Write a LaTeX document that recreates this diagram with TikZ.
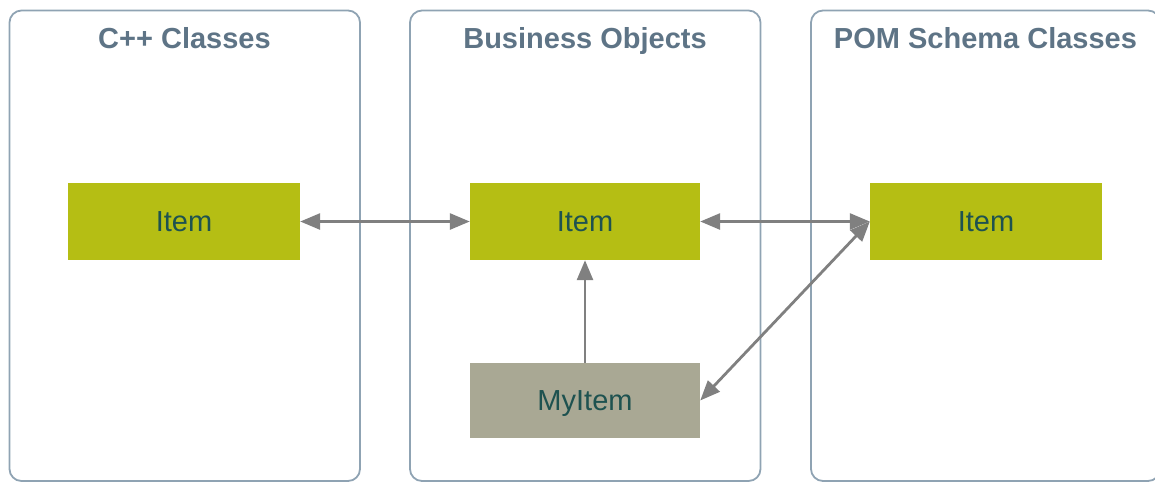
\documentclass[tikz,border=0pt]{standalone}
\usepackage{fontspec}
\setmainfont{Liberation Sans}
\usetikzlibrary{arrows.meta}
\definecolor{panelline}{HTML}{8FA3B3}
\definecolor{paneltext}{HTML}{5E7486}
\definecolor{itemfill}{HTML}{B5BE14}
\definecolor{subfill}{HTML}{A9A894}
\definecolor{itemtext}{HTML}{1E5250}
\definecolor{linkgray}{HTML}{808080}
\begin{document}
\begin{tikzpicture}[x=1pt,y=-1pt,
  panel/.style={draw=panelline, line width=1.8pt, rounded corners=12pt},
  paneltitle/.style={font=\bfseries\fontsize{29}{34}\selectfont, text=paneltext, anchor=base, inner sep=0pt},
  classbox/.style={fill=itemfill, minimum width=232pt, minimum height=77pt, inner sep=0pt,
    text height=20.5pt, text depth=0pt,
    font=\fontsize{29}{34}\selectfont, text=itemtext},
  subbox/.style={classbox, fill=subfill, minimum height=75pt},
  link/.style={draw=linkgray, line width=2.8pt, -{Triangle[length=20pt,width=16pt]}},
  bilink/.style={link, {Triangle[length=20pt,width=16pt]}-{Triangle[length=20pt,width=16pt]}}
]
\useasboundingbox (0,0) rectangle (1155,483);
\begin{scope}
\clip (0,0) rectangle (1155,483);
% swimlanes
\draw[panel] (9.5,10.5) rectangle (360,481);
\draw[panel] (410,10.5) rectangle (760.5,481);
\draw[panel] (811,10.5) rectangle (1160,481);
\end{scope}
\node[paneltitle] (t1) at (184.5,48) {C++ Classes};
\node[paneltitle] (t2) at (585,48) {Business Objects};
\node[paneltitle] (t3) at (985.5,48) {POM Schema Classes};
% classes
\node[classbox] (cpp) at (184,221.5) {Item};
\node[classbox, minimum width=230pt] (bo) at (585,221.5) {Item};
\node[classbox] (pom) at (986,221.5) {Item};
\node[subbox, minimum width=230pt] (my) at (585,400.5) {MyItem};
% relations
\draw[bilink] (cpp.east) -- (bo.west);
\draw[bilink] (bo.east) -- (pom.west);
\draw[link] (my.north) -- (bo.south);
\draw[bilink] (my.east) -- (pom.west);
\end{tikzpicture}
\end{document}
